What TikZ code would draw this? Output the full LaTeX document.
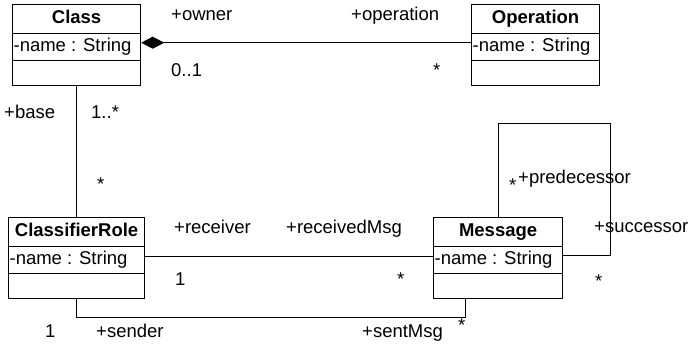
\documentclass[tikz,border=0pt]{standalone}
\usepackage{fontspec}
\setmainfont{Liberation Sans}
\usetikzlibrary{shapes.multipart,arrows.meta,positioning,calc}
\newcommand{\titlestrut}{\rule[-9.5pt]{0pt}{27.5pt}}
\newcommand{\attrstrut}{\rule[-8pt]{0pt}{26pt}}
\begin{document}
\begin{tikzpicture}[x=1pt,y=-1pt,
        umlclass/.style={rectangle split,rectangle split parts=3,draw=black,line width=1.2pt,
          inner xsep=1pt,inner ysep=0pt,anchor=north west,font=\fontsize{18.5}{22}\selectfont},
        conn/.style={line width=0.9pt},
        lbl/.style={inner sep=0pt,anchor=base west,font=\fontsize{18.5}{22}\selectfont}]
        \useasboundingbox (0,0) rectangle (690,349);
        \node[umlclass] at (12,4) (class) {\makebox[126pt]{\bfseries Class}\titlestrut
          \nodepart{two}\makebox[126pt][l]{-name : String}\attrstrut
          \nodepart{three}\rule{0pt}{23.5pt}};
        \node[umlclass] at (471,4) (operation) {\makebox[126pt]{\bfseries Operation}\titlestrut
          \nodepart{two}\makebox[126pt][l]{-name : String}\attrstrut
          \nodepart{three}\rule{0pt}{23.5pt}};
        \node[umlclass] at (8,217) (role) {\makebox[134pt]{\bfseries ClassifierRole}\titlestrut
          \nodepart{two}\makebox[134pt][l]{-name : String}\attrstrut
          \nodepart{three}\rule{0pt}{23.5pt}};
        \node[umlclass] at (433,217) (msg) {\makebox[127pt]{\bfseries Message}\titlestrut
          \nodepart{two}\makebox[127pt][l]{-name : String}\attrstrut
          \nodepart{three}\rule{0pt}{23.5pt}};
        % associations
        \draw[conn,{Diamond[length=23pt,width=12pt]}-] ([yshift=-38.7pt]class.north east) -- ([yshift=-38.7pt]operation.north west);
        \draw[conn] (class.south) -- (role.north);
        \draw[conn] ([yshift=-39pt]role.north east) -- ([yshift=-39pt]msg.north west);
        \draw[conn] (role.south) -- ++(0,19) -| ([xshift=32pt]msg.south west);
        \draw[conn] (msg.north) -- ++(0,-94) -| ([xshift=47pt,yshift=-38pt]msg.north east) -- ([yshift=-38pt]msg.north east);
        % role names and multiplicities
        \node[lbl] at (171,20) (lowner) {+owner};
        \node[lbl] at (351,20) (loperation) {+operation};
        \node[lbl] at (171,76) (mowner) {0..1};
        \node[lbl] at (433,76) (moperation) {*};
        \node[lbl] at (4,118) (lbase) {+base};
        \node[lbl] at (91,118) (mbase) {1..*};
        \node[lbl] at (97,190) (mrole) {*};
        \node[lbl] at (174,233) (lreceiver) {+receiver};
        \node[lbl] at (286,233) (lreceived) {+receivedMsg};
        \node[lbl] at (175,285) (mreceiver) {1};
        \node[lbl] at (397,285) (mreceived) {*};
        \node[lbl] at (45,337) (msender) {1};
        \node[lbl] at (96,337) (lsender) {+sender};
        \node[lbl] at (362,337) (lsent) {+sentMsg};
        \node[lbl] at (458,331) (msent) {*};
        \node[lbl] at (509,191) (mpred) {*};
        \node[lbl] at (518,183) (lpred) {+predecessor};
        \node[lbl] at (594,232) (lsucc) {+successor};
        \node[lbl] at (595,287) (msucc) {*};
      \end{tikzpicture}
\end{document}
